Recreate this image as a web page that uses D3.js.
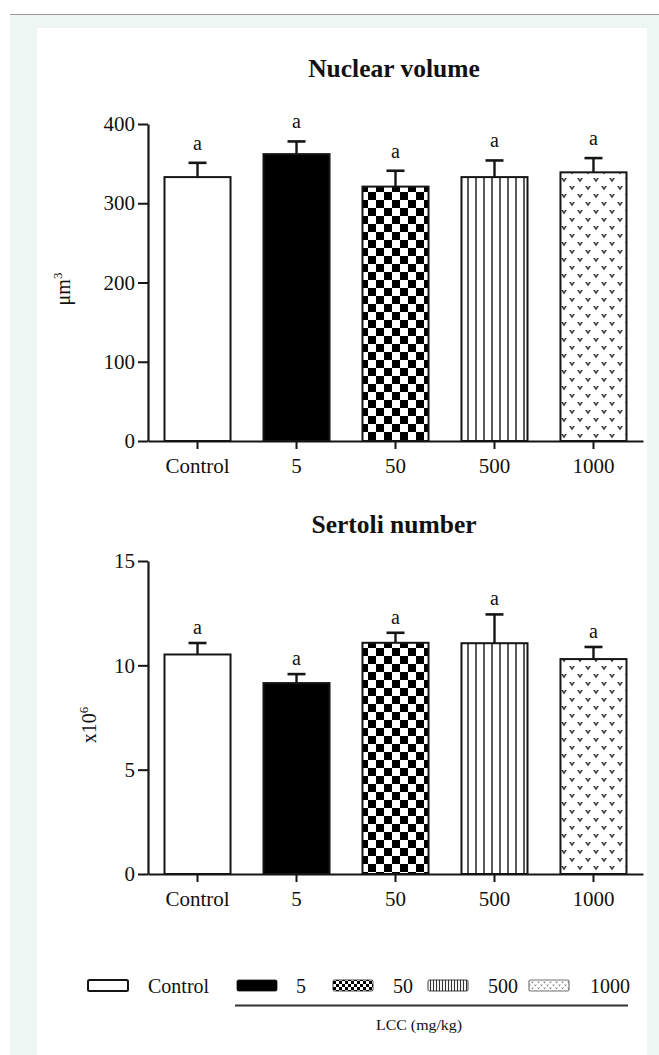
<!DOCTYPE html>
<html>
<head>
<meta charset="utf-8">
<script src="https://cdn.jsdelivr.net/npm/d3@7/dist/d3.min.js"></script>
<style>
  html, body { margin: 0; padding: 0; background: #ffffff; }
  svg { display: block; }
  text { font-family: "Liberation Serif", "Times New Roman", serif; fill: #111; }
</style>
</head>
<body>
<svg id="chart" width="659" height="1055"></svg>
<script>
// ---------------- data ----------------
const categories = ["Control", "5", "50", "500", "1000"];
const nuclearMean = [333, 362, 321, 333, 339];
const nuclearSEM  = [18, 16, 20, 21, 18];
const nuclearLetters = ["a", "a", "a", "a", "a"];
const nuclearTicks = [0, 100, 200, 300, 400];

const sertoliMean = [10.52, 9.15, 11.08, 11.06, 10.30];
const sertoliSEM  = [0.55, 0.43, 0.48, 1.38, 0.58];
const sertoliLetters = ["a", "a", "a", "a", "a"];
const sertoliTicks = [0, 5, 10, 15];

const legendTitle = "LCC (mg/kg)";

// ---------------- setup ----------------
const svg = d3.select("#chart");
const W = 659, H = 1055;
const ink = "#151515";

// page background
svg.append("rect").attr("x", 0).attr("y", 0).attr("width", W).attr("height", H).attr("fill", "#ffffff");
svg.append("rect").attr("x", 10).attr("y", 14).attr("width", W - 10).attr("height", H - 14).attr("fill", "#eef6f4");
svg.append("line").attr("x1", 10).attr("x2", W).attr("y1", 14.5).attr("y2", 14.5).attr("stroke", "#9a9a9a").attr("stroke-width", 1.2);
svg.append("rect").attr("x", 37).attr("y", 28).attr("width", 610).attr("height", H - 28).attr("fill", "#ffffff");

// ---------------- patterns ----------------
const defs = svg.append("defs");
function checker(id, c) {
  const p = defs.append("pattern").attr("id", id).attr("patternUnits", "userSpaceOnUse")
    .attr("width", 2 * c).attr("height", 2 * c);
  p.append("rect").attr("width", 2 * c).attr("height", 2 * c).attr("fill", "#fff");
  p.append("rect").attr("x", 0).attr("y", 0).attr("width", c).attr("height", c).attr("fill", "#000");
  p.append("rect").attr("x", c).attr("y", c).attr("width", c).attr("height", c).attr("fill", "#000");
}
function vlines(id, s, w) {
  const p = defs.append("pattern").attr("id", id).attr("patternUnits", "userSpaceOnUse")
    .attr("width", s).attr("height", 10);
  p.append("rect").attr("width", s).attr("height", 10).attr("fill", "#fff");
  p.append("rect").attr("x", s / 2 - w / 2).attr("y", 0).attr("width", w).attr("height", 10).attr("fill", "#333");
}
function hearts(id, s, r, col) {
  const p = defs.append("pattern").attr("id", id).attr("patternUnits", "userSpaceOnUse")
    .attr("width", s).attr("height", s);
  p.append("rect").attr("width", s).attr("height", s).attr("fill", "#fff");
  [[s / 4, s / 4], [3 * s / 4, 3 * s / 4]].forEach(([cx, cy]) => {
    p.append("path")
      .attr("d", `M${cx - r},${cy - r * 0.7} L${cx},${cy + r * 0.8} L${cx + r},${cy - r * 0.7} L${cx + r * 0.3},${cy - r * 0.7} L${cx},${cy - r * 0.1} L${cx - r * 0.3},${cy - r * 0.7} Z`)
      .attr("fill", col);
  });
}
checker("pChecker", 8);
vlines("pLines", 8, 1.6);
hearts("pHearts", 16, 3, "#444");
checker("lChecker", 3);
vlines("lLines", 3, 1.1);
hearts("lHearts", 6, 1.3, "#777");

const fills = ["#ffffff", "#000000", "url(#pChecker)", "url(#pLines)", "url(#pHearts)"];
const legendFills = ["#ffffff", "#000000", "url(#lChecker)", "url(#lLines)", "url(#lHearts)"];

// ---------------- chart builder ----------------
function barChart(cfg) {
  const x = d3.scaleBand().domain(categories).range([148, 643])
    .paddingInner(0.333).paddingOuter(0.1667);
  const y = d3.scaleLinear().domain(cfg.domain).range([cfg.y0, cfg.y1]);
  const g = svg.append("g");

  // title
  g.append("text").attr("x", 394).attr("y", cfg.titleY).attr("text-anchor", "middle")
    .attr("font-size", 25.5).attr("font-weight", "bold").text(cfg.title);

  // bars
  g.selectAll("rect.bar").data(categories).enter().append("rect")
    .attr("class", "bar")
    .attr("x", d => x(d))
    .attr("width", x.bandwidth())
    .attr("y", (d, i) => y(cfg.mean[i]))
    .attr("height", (d, i) => y(0) - y(cfg.mean[i]))
    .attr("fill", (d, i) => fills[i])
    .attr("stroke", ink).attr("stroke-width", 2);

  // error bars
  const eb = g.selectAll("g.err").data(categories).enter().append("g").attr("class", "err");
  eb.append("line")
    .attr("x1", d => x(d) + x.bandwidth() / 2).attr("x2", d => x(d) + x.bandwidth() / 2)
    .attr("y1", (d, i) => y(cfg.mean[i])).attr("y2", (d, i) => y(cfg.mean[i] + cfg.sem[i]))
    .attr("stroke", ink).attr("stroke-width", 2.4);
  eb.append("line")
    .attr("x1", d => x(d) + x.bandwidth() / 2 - 9).attr("x2", d => x(d) + x.bandwidth() / 2 + 9)
    .attr("y1", (d, i) => y(cfg.mean[i] + cfg.sem[i])).attr("y2", (d, i) => y(cfg.mean[i] + cfg.sem[i]))
    .attr("stroke", ink).attr("stroke-width", 2.6);

  // letters
  g.selectAll("text.sig").data(categories).enter().append("text")
    .attr("class", "sig")
    .attr("x", d => x(d) + x.bandwidth() / 2)
    .attr("y", (d, i) => y(cfg.mean[i] + cfg.sem[i]) - cfg.letterGap)
    .attr("text-anchor", "middle").attr("font-size", 20)
    .text((d, i) => cfg.letters[i]);

  // axes
  const yAxis = d3.axisLeft(y).tickValues(cfg.ticks).tickSize(10).tickSizeOuter(0).tickPadding(3)
    .tickFormat(d3.format("d"));
  const ya = g.append("g").attr("transform", "translate(148,0)").call(yAxis);
  const xAxis = d3.axisBottom(x).tickSize(8).tickSizeOuter(0).tickPadding(9);
  const xa = g.append("g").attr("transform", `translate(0,${y(0)})`).call(xAxis);
  [ya, xa].forEach(a => {
    a.select(".domain").attr("stroke", ink).attr("stroke-width", 2.2);
    a.selectAll(".tick line").attr("stroke", ink).attr("stroke-width", 2);
    a.selectAll(".tick text").attr("font-size", 21).attr("fill", "#111")
      .attr("font-family", "'Liberation Serif', 'Times New Roman', serif");
  });

  // y label
  const lab = g.append("text")
    .attr("transform", `translate(${cfg.labX},${cfg.labY}) rotate(-90)`)
    .attr("text-anchor", "middle").attr("font-size", 20);
  lab.append("tspan").text(cfg.labMain);
  lab.append("tspan").attr("font-size", 13).attr("dy", -8).text(cfg.labSup);
}

barChart({
  title: "Nuclear volume", titleY: 77,
  domain: [0, 400], y0: 441, y1: 124,
  mean: nuclearMean, sem: nuclearSEM, letters: nuclearLetters, ticks: nuclearTicks,
  letterGap: 13, labX: 70, labY: 289, labMain: "μm", labSup: "3"
});
barChart({
  title: "Sertoli number", titleY: 533,
  domain: [0, 15], y0: 874, y1: 561,
  mean: sertoliMean, sem: sertoliSEM, letters: sertoliLetters, ticks: sertoliTicks,
  letterGap: 9, labX: 96, labY: 725, labMain: "x10", labSup: "6"
});

// ---------------- legend ----------------
const legBoxX = [88, 237, 333, 428, 529];
const legTextX = [148, 296, 393, 488, 590];
const lg = svg.append("g");
lg.selectAll("rect.lb").data(categories).enter().append("rect")
  .attr("class", "lb")
  .attr("x", (d, i) => legBoxX[i]).attr("y", 980)
  .attr("width", 40).attr("height", 11).attr("rx", 1.5)
  .attr("fill", (d, i) => legendFills[i])
  .attr("stroke", (d, i) => i === 4 ? "#777" : ink)
  .attr("stroke-width", (d, i) => i === 0 ? 2 : (i === 4 ? 1.2 : 0.8));
lg.selectAll("text.lt").data(categories).enter().append("text")
  .attr("class", "lt")
  .attr("x", (d, i) => legTextX[i]).attr("y", 993)
  .attr("font-size", 20).text(d => d);
lg.append("line").attr("x1", 235).attr("x2", 628).attr("y1", 1005.5).attr("y2", 1005.5)
  .attr("stroke", "#333").attr("stroke-width", 2.2);
lg.append("text").attr("x", 419).attr("y", 1030).attr("text-anchor", "middle")
  .attr("font-size", 14.5).attr("textLength", 86).attr("lengthAdjust", "spacingAndGlyphs")
  .text(legendTitle);
</script>
</body>
</html>
